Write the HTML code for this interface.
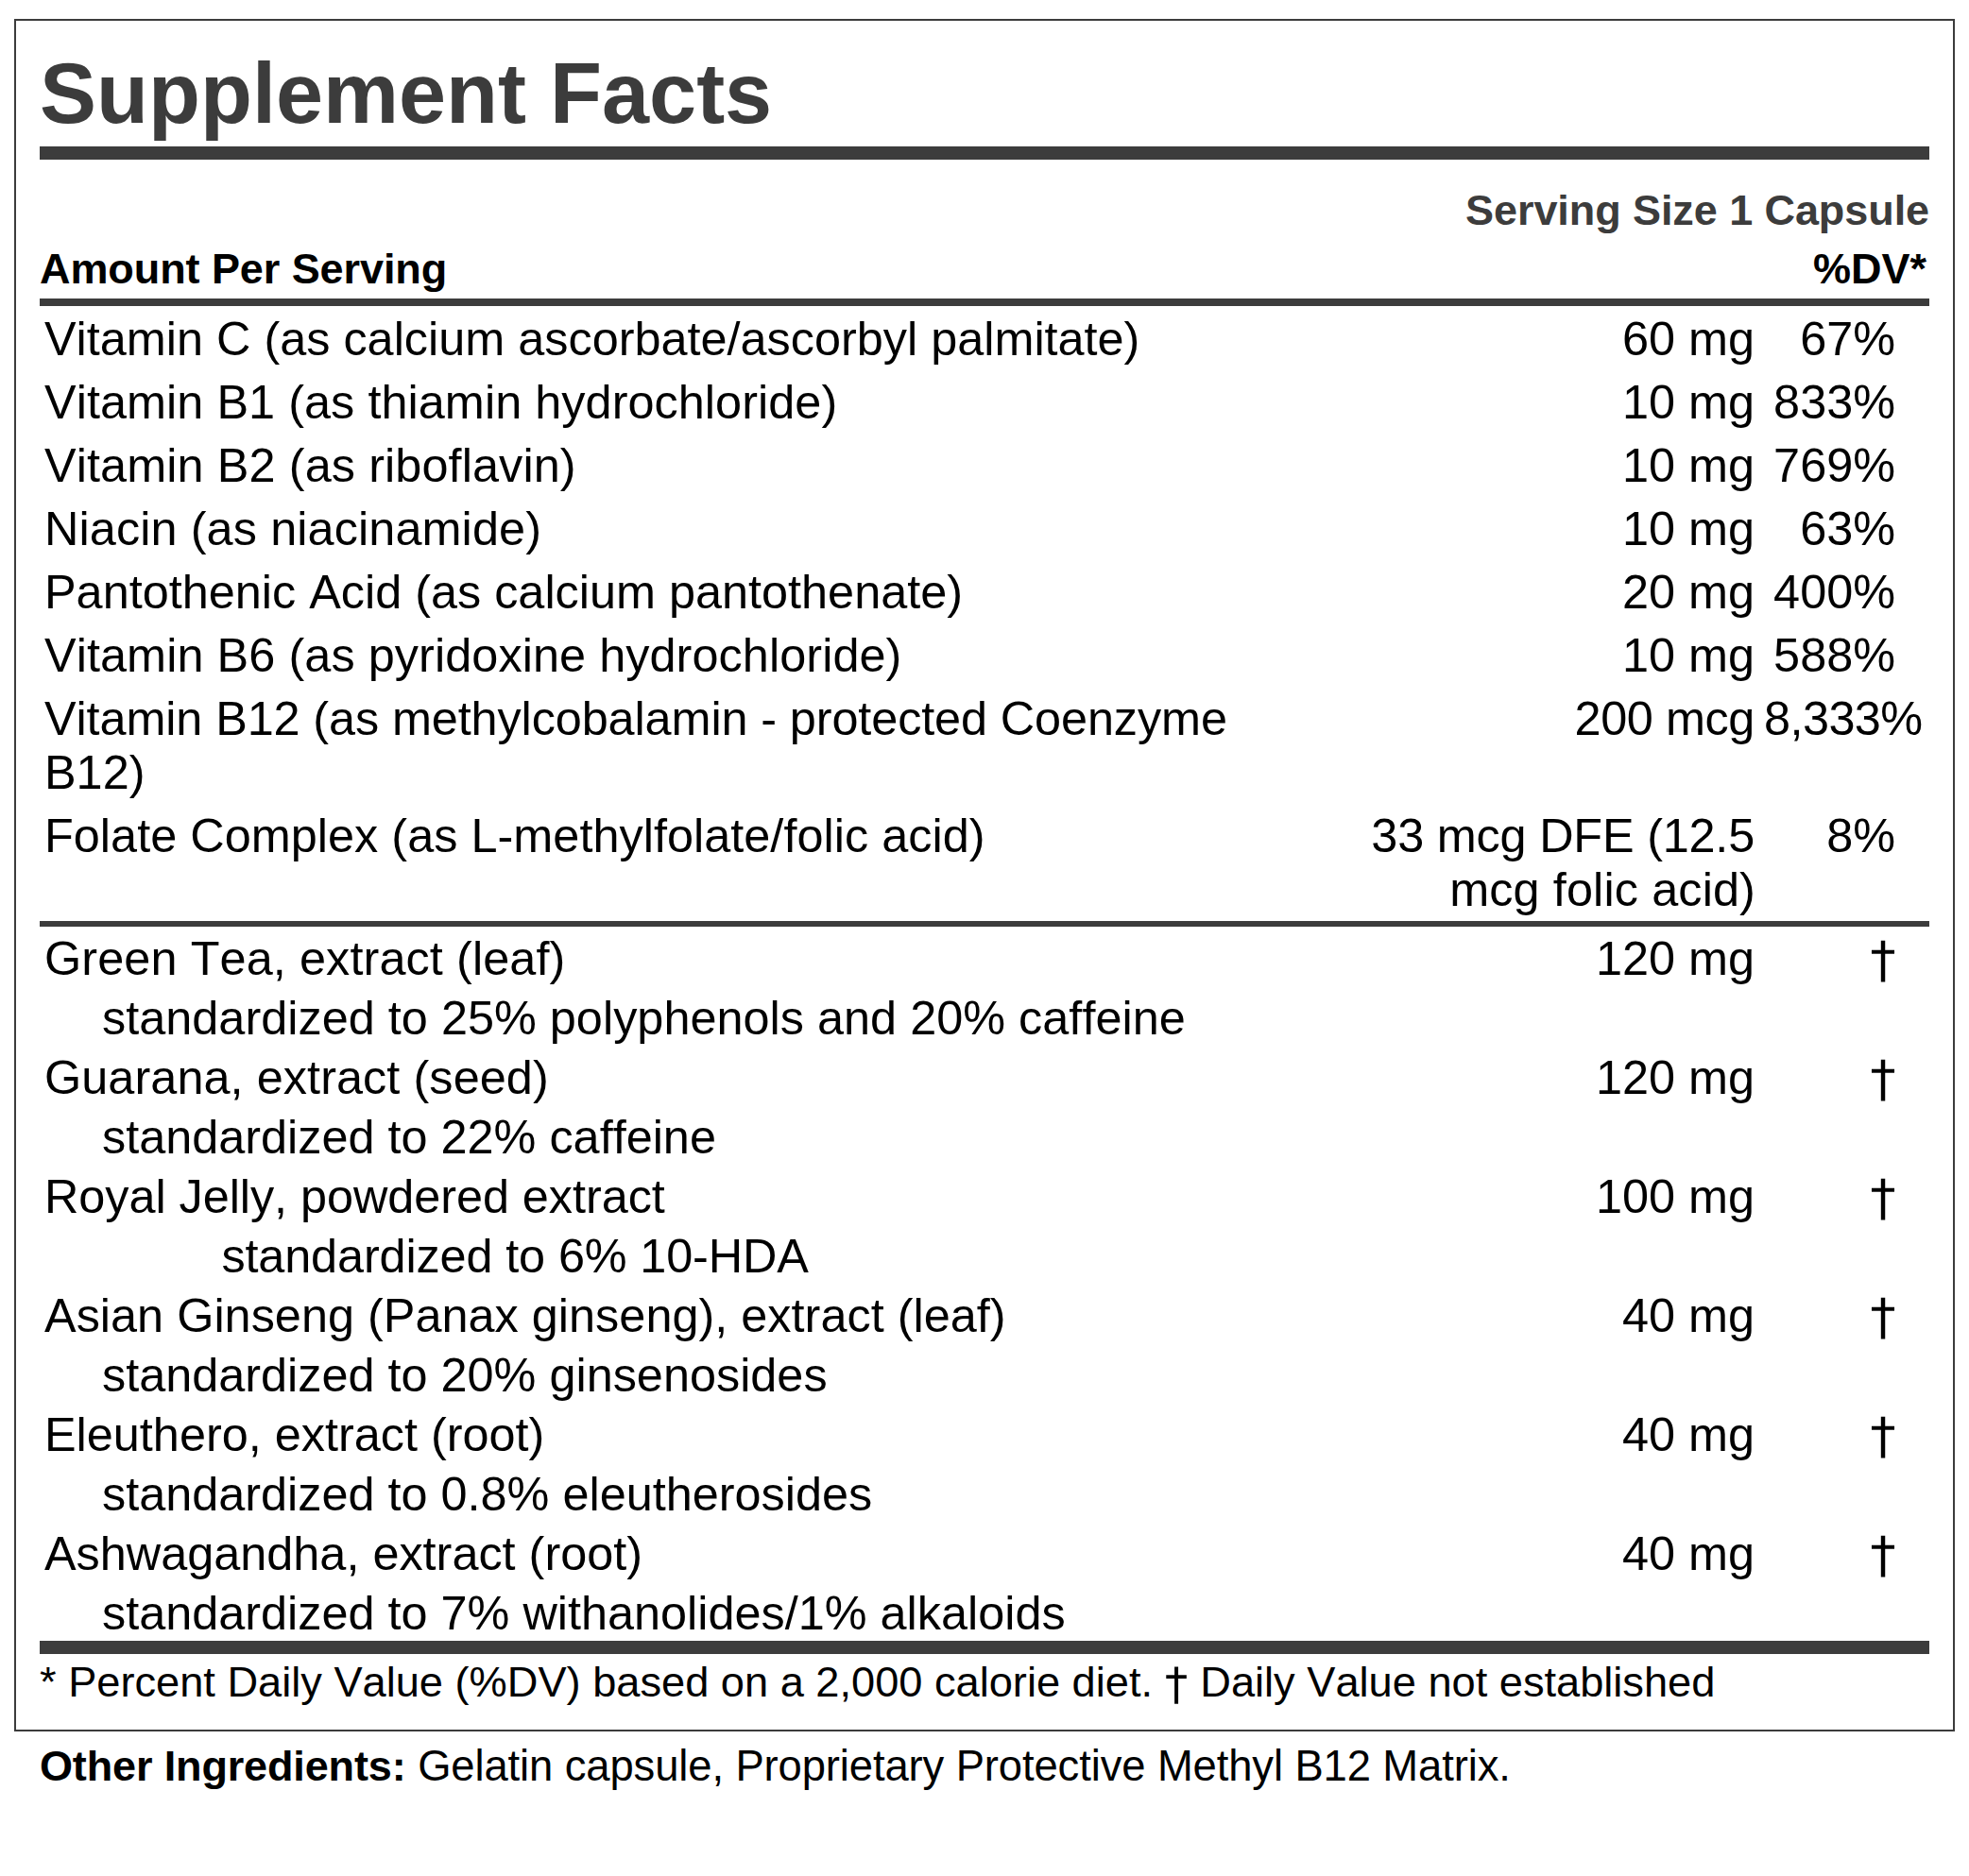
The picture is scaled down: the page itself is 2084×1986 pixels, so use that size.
<!DOCTYPE html>
<html lang="en"><head><meta charset="utf-8"><title>Supplement Facts</title>
<style>
html,body{margin:0;padding:0;background:#fff;}
body{width:2084px;height:1986px;position:relative;overflow:hidden;font-family:"Liberation Sans",sans-serif;color:#000;font-kerning:none;font-feature-settings:"kern" 0;}
.box{position:absolute;left:15px;top:20px;width:2050px;height:1809px;border:2px solid #3c3c3c;}
.bar{position:absolute;background:#3c3c3c;}
.row{position:absolute;left:0;width:2084px;height:0;}
.c{position:absolute;top:0;white-space:nowrap;}
.t90{font-weight:bold;font-size:90px;line-height:90px;color:#3c3c3c;}
.b45{font-weight:bold;font-size:45px;line-height:45px;}
.dk{color:#3c3c3c;}
.r50{font-size:50.4px;line-height:50.4px;}
.r45{font-size:45.4px;line-height:45.4px;}
.r45 b{font-size:45px;letter-spacing:-0.14px;}
.r45 .oi{letter-spacing:-0.11px;}
.dg{font-family:"WenQuanYi Zen Hei","Liberation Sans",sans-serif;}
</style></head><body>
<div class="box"></div>
<div class="row title" style="top:54px"><span class="c t90" style="left:42px;">Supplement Facts</span></div>
<div class="bar" style="top:155px;left:42px;width:2000px;height:14px"></div>
<div class="row serving" style="top:200px"><span class="c b45 dk" style="right:42px;text-align:right;letter-spacing:-0.08px;">Serving Size 1 Capsule</span></div>
<div class="row colhead" style="top:262px"><span class="c b45" style="left:42px;letter-spacing:-0.08px;">Amount Per Serving</span><span class="c b45" style="right:45px;text-align:right;">%DV*</span></div>
<div class="bar" style="top:316px;left:42px;width:2000px;height:8px"></div>
<div class="row" style="top:334px"><span class="c r50" style="left:47px;">Vitamin C (as calcium ascorbate/ascorbyl palmitate)</span><span class="c r50" style="right:227px;text-align:right;">60 mg</span><span class="c r50" style="right:78px;text-align:right;">67%</span></div>
<div class="row" style="top:401px"><span class="c r50" style="left:47px;letter-spacing:0.05px;">Vitamin B1 (as thiamin hydrochloride)</span><span class="c r50" style="right:227px;text-align:right;">10 mg</span><span class="c r50" style="right:78px;text-align:right;">833%</span></div>
<div class="row" style="top:468px"><span class="c r50" style="left:47px;letter-spacing:0.1px;">Vitamin B2 (as riboflavin)</span><span class="c r50" style="right:227px;text-align:right;">10 mg</span><span class="c r50" style="right:78px;text-align:right;">769%</span></div>
<div class="row" style="top:535px"><span class="c r50" style="left:47px;letter-spacing:0.1px;">Niacin (as niacinamide)</span><span class="c r50" style="right:227px;text-align:right;">10 mg</span><span class="c r50" style="right:78px;text-align:right;">63%</span></div>
<div class="row" style="top:602px"><span class="c r50" style="left:47px;">Pantothenic Acid (as calcium pantothenate)</span><span class="c r50" style="right:227px;text-align:right;">20 mg</span><span class="c r50" style="right:78px;text-align:right;">400%</span></div>
<div class="row" style="top:669px"><span class="c r50" style="left:47px;letter-spacing:0.07px;">Vitamin B6 (as pyridoxine hydrochloride)</span><span class="c r50" style="right:227px;text-align:right;">10 mg</span><span class="c r50" style="right:78px;text-align:right;">588%</span></div>
<div class="row" style="top:736px"><span class="c r50" style="left:47px;letter-spacing:-0.11px;">Vitamin B12 (as methylcobalamin - protected Coenzyme</span><span class="c r50" style="top:57px;left:47px;">B12)</span><span class="c r50" style="right:227px;text-align:right;letter-spacing:-0.4px;">200 mcg</span><span class="c r50" style="left:1867px;letter-spacing:-0.55px;">8,333%</span></div>
<div class="row" style="top:860px"><span class="c r50" style="left:47px;letter-spacing:0.03px;">Folate Complex (as L-methylfolate/folic acid)</span><span class="c r50" style="right:227px;text-align:right;letter-spacing:-0.2px;">33 mcg DFE (12.5</span><span class="c r50" style="top:57px;right:226px;text-align:right;letter-spacing:0.12px;">mcg folic acid)</span><span class="c r50" style="right:78px;text-align:right;">8%</span></div>
<div class="bar" style="top:975px;left:42px;width:2000px;height:6px"></div>
<div class="row" style="top:990px"><span class="c r50" style="left:47px;letter-spacing:0.1px;">Green Tea, extract (leaf)</span><span class="c r50" style="right:227px;text-align:right;">120 mg</span><span class="c r50" style="top:-1px;right:77px;text-align:right;"><span class="dg">&dagger;</span></span></div>
<div class="row sub" style="top:1053px"><span class="c r50" style="left:108px;letter-spacing:0.02px;">standardized to 25% polyphenols and 20% caffeine</span></div>
<div class="row" style="top:1116px"><span class="c r50" style="left:47px;letter-spacing:0.07px;">Guarana, extract (seed)</span><span class="c r50" style="right:227px;text-align:right;">120 mg</span><span class="c r50" style="top:-1px;right:77px;text-align:right;"><span class="dg">&dagger;</span></span></div>
<div class="row sub" style="top:1179px"><span class="c r50" style="left:108px;">standardized to 22% caffeine</span></div>
<div class="row" style="top:1242px"><span class="c r50" style="left:47px;letter-spacing:-0.05px;">Royal Jelly, powdered extract</span><span class="c r50" style="right:227px;text-align:right;">100 mg</span><span class="c r50" style="top:-1px;right:77px;text-align:right;"><span class="dg">&dagger;</span></span></div>
<div class="row sub" style="top:1305px"><span class="c r50" style="left:234.4px;letter-spacing:-0.13px;">standardized to 6% 10-HDA</span></div>
<div class="row" style="top:1368px"><span class="c r50" style="left:47px;letter-spacing:0.02px;">Asian Ginseng (Panax ginseng), extract (leaf)</span><span class="c r50" style="right:227px;text-align:right;">40 mg</span><span class="c r50" style="top:-1px;right:77px;text-align:right;"><span class="dg">&dagger;</span></span></div>
<div class="row sub" style="top:1431px"><span class="c r50" style="left:108px;">standardized to 20% ginsenosides</span></div>
<div class="row" style="top:1494px"><span class="c r50" style="left:47px;">Eleuthero, extract (root)</span><span class="c r50" style="right:227px;text-align:right;">40 mg</span><span class="c r50" style="top:-1px;right:77px;text-align:right;"><span class="dg">&dagger;</span></span></div>
<div class="row sub" style="top:1557px"><span class="c r50" style="left:108px;">standardized to 0.8% eleutherosides</span></div>
<div class="row" style="top:1620px"><span class="c r50" style="left:47px;">Ashwagandha, extract (root)</span><span class="c r50" style="right:227px;text-align:right;">40 mg</span><span class="c r50" style="top:-1px;right:77px;text-align:right;"><span class="dg">&dagger;</span></span></div>
<div class="row sub" style="top:1683px"><span class="c r50" style="left:108px;">standardized to 7% withanolides/1% alkaloids</span></div>
<div class="bar" style="top:1737px;left:42px;width:2000px;height:14px"></div>
<div class="row foot" style="top:1758px"><span class="c r45" style="left:42px;font-size:45.2px;">* Percent Daily Value (%DV) based on a 2,000 calorie diet. <span class="dg">&dagger;</span> Daily Value not established</span></div>
<div class="row other" style="top:1847px"><span class="c r45" style="left:42px;"><b>Other Ingredients:</b> <span class="oi">Gelatin capsule, Proprietary Protective Methyl B12 Matrix.</span></span></div>
</body></html>
